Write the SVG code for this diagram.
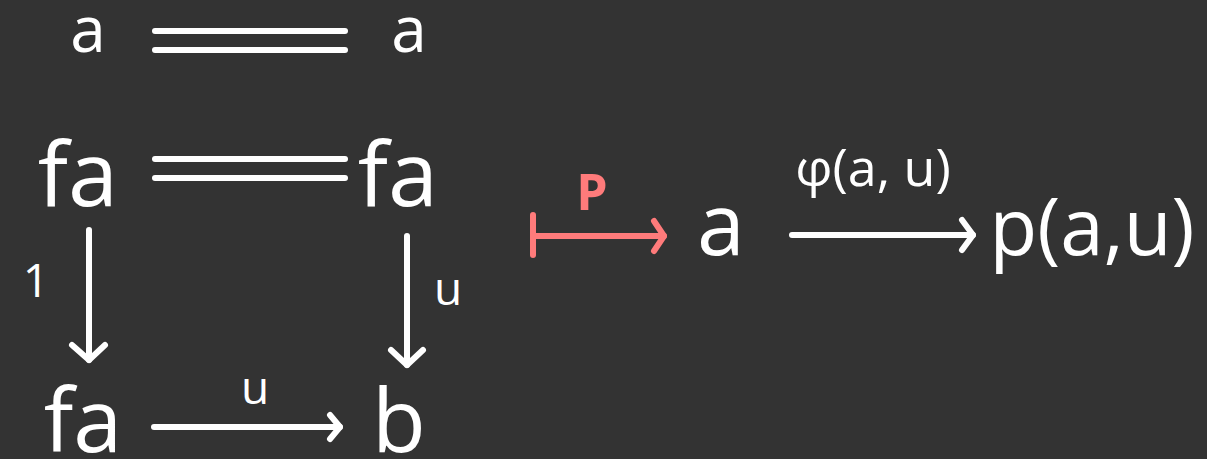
<svg xmlns="http://www.w3.org/2000/svg" width="1207" height="459" viewBox="0 0 1207 459">
<style>
.t{font-family:"Open Sans","DejaVu Sans",sans-serif;fill:#ffffff}
.ln{stroke:#ffffff;stroke-width:6;stroke-linecap:round;fill:none;stroke-linejoin:round}
.pk{stroke:#ff7b7b;stroke-width:6;stroke-linecap:round;fill:none;stroke-linejoin:round}
</style>
<rect width="1207" height="459" fill="#333333"/>
<g id="n-a-top-left"><text class="t" x="88" y="52" font-size="64" text-anchor="middle">a</text></g>
<g id="n-a-top-right"><text class="t" x="409" y="52" font-size="64" text-anchor="middle">a</text></g>
<g id="n-fa-mid-left"><text class="t" x="78" y="206" font-size="90" text-anchor="middle">fa</text></g>
<g id="n-fa-mid-right"><text class="t" x="398" y="206" font-size="90" text-anchor="middle">fa</text></g>
<g id="n-fa-bottom"><text class="t" x="83" y="452" font-size="88" text-anchor="middle">fa</text></g>
<g id="n-b"><text class="t" x="399" y="452" font-size="88" text-anchor="middle">b</text></g>
<g id="n-a-right"><text class="t" x="721" y="255" font-size="86" text-anchor="middle">a</text></g>
<g id="n-pau"><text class="t" x="1092" y="255" font-size="78" text-anchor="middle">p(a,u)</text></g>
<g id="connectors">
  <line class="ln" x1="155" y1="31" x2="345" y2="31"/>
  <line class="ln" x1="155" y1="50" x2="345" y2="50"/>
  <line class="ln" x1="155" y1="159" x2="345" y2="159"/>
  <line class="ln" x1="155" y1="178" x2="345" y2="178"/>
  <line class="ln" x1="89" y1="230" x2="89" y2="360"/>
  <polyline class="ln" points="72,345 89,360 105,345"/>
  <line class="ln" x1="407" y1="236" x2="407" y2="365"/>
  <polyline class="ln" points="391,350 407,365 423,350"/>
  <line class="ln" x1="154" y1="427" x2="340" y2="427"/>
  <polyline class="ln" points="330,415 340,427 330,439"/>
  <line class="pk" x1="533" y1="215" x2="533" y2="255"/>
  <line class="pk" x1="533" y1="236" x2="664" y2="236"/>
  <polyline class="pk" points="654,221 664,236 654,251"/>
  <line class="ln" x1="792" y1="235" x2="973" y2="235"/>
  <polyline class="ln" points="962,220 973,235 962,250"/>
  <text class="t" x="36" y="297" font-size="46" text-anchor="middle">1</text>
  <text class="t" x="448" y="305" font-size="46" text-anchor="middle">u</text>
  <text class="t" x="255" y="404" font-size="46" text-anchor="middle">u</text>
  <text class="t" x="592" y="210" font-size="50" font-weight="bold" text-anchor="middle" style="fill:#ff7b7b">P</text>
  <text class="t" x="873" y="186" font-size="52" text-anchor="middle">φ(a, u)</text>
</g>
</svg>
